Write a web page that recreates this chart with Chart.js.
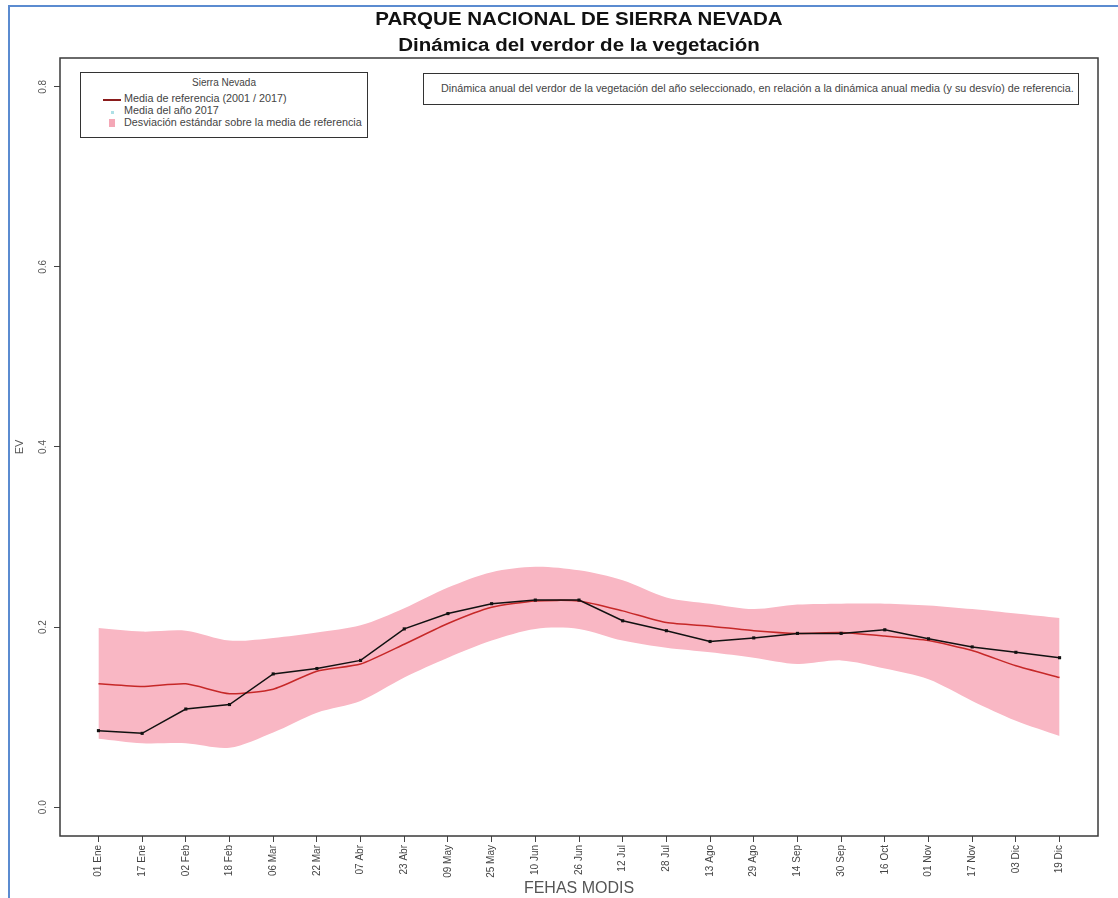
<!DOCTYPE html>
<html>
<head>
<meta charset="utf-8">
<script src="https://cdn.jsdelivr.net/npm/chart.js@4.4.1/dist/chart.umd.min.js"></script>
<style>
  body { margin: 0; background: #fff; font-family: "Liberation Sans", Arial, sans-serif; }
  #wrap { position: relative; width: 1118px; height: 898px; overflow: hidden; }
  #marco { position: absolute; left: 8px; top: 5px; width: 1200px; height: 1000px;
           border-left: 2px solid #5b8bd0; border-top: 2px solid #5b8bd0; }
  canvas { position: absolute; left: 0; top: 0; }
  .titulo { position: absolute; left: 0; width: 1158px; text-align: center; font-weight: bold;
            font-size: 18px; color: #111; transform: scaleX(1.14); transform-origin: 579px 0; line-height: 20px; }
  .caja { position: absolute; border: 1.5px solid #333; background: #fff; color: #444; font-size: 10px; }
  .fila { position: absolute; left: 43px; white-space: nowrap; line-height: 12px;
          transform: scaleX(1.08); transform-origin: 0 0; }
  .sim { position: absolute; }
</style>
</head>
<body>
<div id="wrap">
  <div id="marco"></div>
  <canvas id="grafico" width="1118" height="898"></canvas>
  <div class="titulo" style="top:9px">PARQUE NACIONAL DE SIERRA NEVADA</div>
  <div class="titulo" style="top:35px">Dinámica del verdor de la vegetación</div>

  <div class="caja" style="left:80px;top:72px;width:286px;height:64px">
    <div style="position:absolute;left:0;width:286px;top:4px;text-align:center;line-height:12px">Sierra Nevada</div>
    <div class="sim" style="left:22px;top:26px;width:18px;height:1.5px;background:#8a1c1c"></div>
    <div class="fila" style="top:20px">Media de referencia (2001 / 2017)</div>
    <div class="sim" style="left:30px;top:38px;width:3px;height:3px;background:#aee0e6"></div>
    <div class="fila" style="top:32px">Media del año 2017</div>
    <div class="sim" style="left:28px;top:46px;width:6px;height:8px;background:#f4a7b6"></div>
    <div class="fila" style="top:44px">Desviación estándar sobre la media de referencia</div>
  </div>

  <div class="caja" style="left:423px;top:73px;width:654px;height:30px">
    <div style="position:absolute;left:17px;top:9px;white-space:nowrap;line-height:12px;transform:scaleX(1.08);transform-origin:0 0">Dinámica anual del verdor de la vegetación del año seleccionado, en relación a la dinámica anual media (y su desvío) de referencia.</div>
  </div>
</div>

<script>
// fechas MODIS (compuestos de 16 días)
const fechas = ["01 Ene", "17 Ene", "02 Feb", "18 Feb", "06 Mar", "22 Mar", "07 Abr", "23 Abr",
  "09 May", "25 May", "10 Jun", "26 Jun", "12 Jul", "28 Jul", "13 Ago", "29 Ago",
  "14 Sep", "30 Sep", "16 Oct", "01 Nov", "17 Nov", "03 Dic", "19 Dic"];

// media de referencia 2001-2017
const mediaRef = [0.137, 0.134, 0.137, 0.126, 0.131, 0.151, 0.159, 0.181, 0.204, 0.222, 0.229, 0.229,
  0.218, 0.205, 0.201, 0.196, 0.193, 0.194, 0.190, 0.185, 0.174, 0.157, 0.144];

// desviación estándar: límites superior e inferior
const desvSup = [0.199, 0.195, 0.196, 0.185, 0.188, 0.194, 0.202, 0.221, 0.244, 0.261, 0.267, 0.263,
  0.252, 0.233, 0.226, 0.220, 0.225, 0.226, 0.226, 0.224, 0.220, 0.215, 0.210];
const desvInf = [0.076, 0.071, 0.071, 0.066, 0.083, 0.105, 0.118, 0.144, 0.166, 0.185, 0.198, 0.198,
  0.185, 0.177, 0.172, 0.166, 0.159, 0.163, 0.154, 0.142, 0.118, 0.096, 0.079];

// media del año 2017
const media2017 = [0.085, 0.082, 0.109, 0.114, 0.148, 0.154, 0.163, 0.198, 0.215, 0.226, 0.230, 0.230,
  0.207, 0.196, 0.184, 0.188, 0.193, 0.193, 0.197, 0.187, 0.178, 0.172, 0.166];

const ticksY = [0.0, 0.2, 0.4, 0.6, 0.8];

const pts = arr => arr.map((v, i) => ({ x: i, y: v }));

// caja del gráfico y etiquetas del eje Y giradas (estilo R)
const cajaR = {
  id: 'cajaR',
  afterDraw(chart) {
    const { ctx, chartArea: a, scales: { y } } = chart;
    ctx.save();
    ctx.strokeStyle = '#3a3a3a';
    ctx.lineWidth = 1.5;
    ctx.strokeRect(a.left, a.top, a.right - a.left, a.bottom - a.top);
    ctx.fillStyle = '#555';
    ctx.font = '10px "Liberation Sans"';
    ctx.textAlign = 'center';
    ctx.textBaseline = 'middle';
    y.ticks.forEach(t => {
      ctx.save();
      ctx.translate(a.left - 17, y.getPixelForValue(t.value));
      ctx.rotate(-Math.PI / 2);
      ctx.fillText(t.value.toFixed(1), 0, 0);
      ctx.restore();
    });
    ctx.restore();
  }
};

new Chart(document.getElementById('grafico'), {
  type: 'line',
  data: {
    datasets: [
      {
        label: 'sup', data: pts(desvSup), borderWidth: 0, pointRadius: 0,
        backgroundColor: '#f9b7c4', fill: '+1', tension: 0.3, order: 3
      },
      {
        label: 'inf', data: pts(desvInf), borderWidth: 0, pointRadius: 0,
        fill: false, tension: 0.3, order: 4
      },
      {
        label: 'Media de referencia (2001 / 2017)', data: pts(mediaRef),
        borderColor: '#c62828', borderWidth: 1.5, pointRadius: 0, fill: false, tension: 0.2, order: 1
      },
      {
        label: 'Media del año 2017', data: pts(media2017),
        borderColor: '#111', borderWidth: 1.5, pointStyle: 'rect', pointRadius: 2.2,
        pointBackgroundColor: '#111', pointBorderWidth: 0, fill: false, tension: 0, order: 0
      }
    ]
  },
  options: {
    responsive: false,
    animation: false,
    layout: { padding: { top: 58, right: 20, left: 0, bottom: 0 } },
    plugins: { legend: { display: false }, tooltip: { enabled: false } },
    scales: {
      x: {
        type: 'linear', min: -0.88, max: 22.88,
        afterBuildTicks: s => { s.ticks = fechas.map((f, i) => ({ value: i })); },
        afterFit: s => { s.height = 62; },
        grid: { drawOnChartArea: false, tickLength: 6, color: '#444', lineWidth: 1 },
        border: { display: false },
        ticks: {
          autoSkip: false, minRotation: 90, maxRotation: 90, padding: 3,
          color: '#444', font: { family: 'Liberation Sans', size: 10 },
          callback: v => fechas[v]
        },
        title: {
          display: true, text: 'FEHAS MODIS', color: '#555',
          font: { family: 'Liberation Sans', size: 16 }, padding: { top: 2, bottom: 0 }
        }
      },
      y: {
        min: -0.032, max: 0.832,
        afterBuildTicks: s => { s.ticks = ticksY.map(v => ({ value: v })); },
        afterFit: s => { s.width = 60; },
        grid: { drawOnChartArea: false, tickLength: 6, color: '#444', lineWidth: 1 },
        border: { display: false },
        ticks: { color: 'rgba(0,0,0,0)', font: { size: 10 } },
        title: {
          display: true, text: 'EV', color: '#555',
          font: { family: 'Liberation Sans', size: 11 }, padding: { top: 13, bottom: 0 }
        }
      }
    }
  },
  plugins: [cajaR]
});
</script>
</body>
</html>
